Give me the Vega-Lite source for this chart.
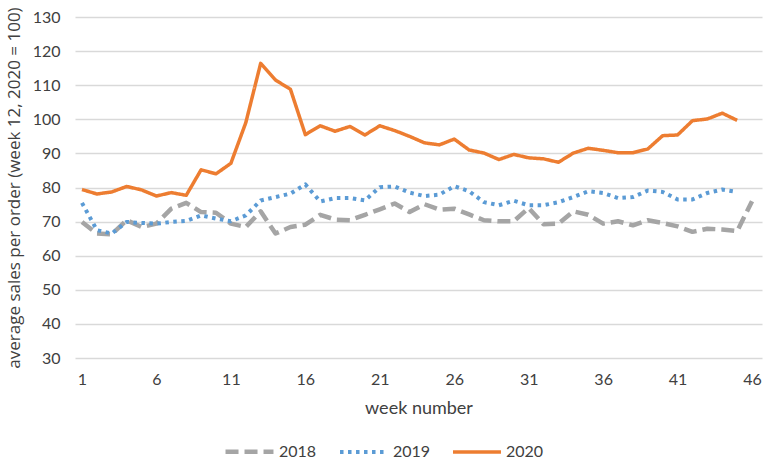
{
  "$schema": "https://vega.github.io/schema/vega-lite/v6.json",
  "width": 687,
  "height": 341,
  "autosize": {"type": "none"},
  "padding": {"left": 75, "top": 17, "right": 3, "bottom": 105},
  "background": "white",
  "config": {"view": {"stroke": null}, "font": "Lato"},
  "data": {"values": [
    {"week":1,"year":"2018","value":69.9},{"week":2,"year":"2018","value":66.5},{"week":3,"year":"2018","value":66.3},{"week":4,"year":"2018","value":70.4},{"week":5,"year":"2018","value":68.4},{"week":6,"year":"2018","value":69.4},{"week":7,"year":"2018","value":73.8},{"week":8,"year":"2018","value":75.5},{"week":9,"year":"2018","value":72.8},{"week":10,"year":"2018","value":72.6},{"week":11,"year":"2018","value":69.4},{"week":12,"year":"2018","value":68.4},{"week":13,"year":"2018","value":73.0},{"week":14,"year":"2018","value":66.5},{"week":15,"year":"2018","value":68.4},{"week":16,"year":"2018","value":69.1},{"week":17,"year":"2018","value":72.0},{"week":18,"year":"2018","value":70.6},{"week":19,"year":"2018","value":70.4},{"week":20,"year":"2018","value":72.0},{"week":21,"year":"2018","value":73.6},{"week":22,"year":"2018","value":75.3},{"week":23,"year":"2018","value":72.8},{"week":24,"year":"2018","value":75.1},{"week":25,"year":"2018","value":73.5},{"week":26,"year":"2018","value":73.8},{"week":27,"year":"2018","value":72.1},{"week":28,"year":"2018","value":70.4},{"week":29,"year":"2018","value":70.1},{"week":30,"year":"2018","value":70.1},{"week":31,"year":"2018","value":74.0},{"week":32,"year":"2018","value":69.2},{"week":33,"year":"2018","value":69.4},{"week":34,"year":"2018","value":73.0},{"week":35,"year":"2018","value":72.0},{"week":36,"year":"2018","value":69.4},{"week":37,"year":"2018","value":70.1},{"week":38,"year":"2018","value":68.9},{"week":39,"year":"2018","value":70.4},{"week":40,"year":"2018","value":69.6},{"week":41,"year":"2018","value":68.6},{"week":42,"year":"2018","value":67.0},{"week":43,"year":"2018","value":67.9},{"week":44,"year":"2018","value":67.7},{"week":45,"year":"2018","value":67.2},{"week":46,"year":"2018","value":76.0},
    {"week":1,"year":"2019","value":75.5},{"week":2,"year":"2019","value":67.5},{"week":3,"year":"2019","value":66.5},{"week":4,"year":"2019","value":69.9},{"week":5,"year":"2019","value":69.6},{"week":6,"year":"2019","value":69.4},{"week":7,"year":"2019","value":69.9},{"week":8,"year":"2019","value":70.2},{"week":9,"year":"2019","value":71.8},{"week":10,"year":"2019","value":70.9},{"week":11,"year":"2019","value":70.1},{"week":12,"year":"2019","value":71.8},{"week":13,"year":"2019","value":76.2},{"week":14,"year":"2019","value":77.2},{"week":15,"year":"2019","value":78.2},{"week":16,"year":"2019","value":80.9},{"week":17,"year":"2019","value":75.9},{"week":18,"year":"2019","value":76.9},{"week":19,"year":"2019","value":76.9},{"week":20,"year":"2019","value":76.2},{"week":21,"year":"2019","value":80.1},{"week":22,"year":"2019","value":80.3},{"week":23,"year":"2019","value":78.5},{"week":24,"year":"2019","value":77.5},{"week":25,"year":"2019","value":77.9},{"week":26,"year":"2019","value":80.4},{"week":27,"year":"2019","value":78.9},{"week":28,"year":"2019","value":75.7},{"week":29,"year":"2019","value":74.8},{"week":30,"year":"2019","value":76.1},{"week":31,"year":"2019","value":74.8},{"week":32,"year":"2019","value":74.8},{"week":33,"year":"2019","value":75.7},{"week":34,"year":"2019","value":77.2},{"week":35,"year":"2019","value":78.9},{"week":36,"year":"2019","value":78.4},{"week":37,"year":"2019","value":76.9},{"week":38,"year":"2019","value":77.2},{"week":39,"year":"2019","value":79.1},{"week":40,"year":"2019","value":78.7},{"week":41,"year":"2019","value":76.5},{"week":42,"year":"2019","value":76.5},{"week":43,"year":"2019","value":78.4},{"week":44,"year":"2019","value":79.4},{"week":45,"year":"2019","value":78.7},
    {"week":1,"year":"2020","value":79.4},{"week":2,"year":"2020","value":78.1},{"week":3,"year":"2020","value":78.7},{"week":4,"year":"2020","value":80.3},{"week":5,"year":"2020","value":79.3},{"week":6,"year":"2020","value":77.5},{"week":7,"year":"2020","value":78.5},{"week":8,"year":"2020","value":77.7},{"week":9,"year":"2020","value":85.2},{"week":10,"year":"2020","value":84.0},{"week":11,"year":"2020","value":87.1},{"week":12,"year":"2020","value":99.0},{"week":13,"year":"2020","value":116.4},{"week":14,"year":"2020","value":111.5},{"week":15,"year":"2020","value":108.8},{"week":16,"year":"2020","value":95.5},{"week":17,"year":"2020","value":98.1},{"week":18,"year":"2020","value":96.5},{"week":19,"year":"2020","value":97.9},{"week":20,"year":"2020","value":95.4},{"week":21,"year":"2020","value":98.1},{"week":22,"year":"2020","value":96.7},{"week":23,"year":"2020","value":95.0},{"week":24,"year":"2020","value":93.1},{"week":25,"year":"2020","value":92.5},{"week":26,"year":"2020","value":94.2},{"week":27,"year":"2020","value":91.0},{"week":28,"year":"2020","value":90.1},{"week":29,"year":"2020","value":88.2},{"week":30,"year":"2020","value":89.7},{"week":31,"year":"2020","value":88.7},{"week":32,"year":"2020","value":88.4},{"week":33,"year":"2020","value":87.4},{"week":34,"year":"2020","value":90.1},{"week":35,"year":"2020","value":91.5},{"week":36,"year":"2020","value":90.9},{"week":37,"year":"2020","value":90.2},{"week":38,"year":"2020","value":90.2},{"week":39,"year":"2020","value":91.3},{"week":40,"year":"2020","value":95.2},{"week":41,"year":"2020","value":95.4},{"week":42,"year":"2020","value":99.6},{"week":43,"year":"2020","value":100.1},{"week":44,"year":"2020","value":101.8},{"week":45,"year":"2020","value":99.7}
  ]},
  "mark": {"type": "line", "strokeCap": "butt", "strokeJoin": "round"},
  "encoding": {
    "x": {
      "field": "week", "type": "quantitative",
      "scale": {"domain": [0.53, 46.67], "nice": false, "zero": false},
      "axis": {
        "values": [1, 6, 11, 16, 21, 26, 31, 36, 41, 46],
        "grid": false, "domain": false, "ticks": false,
        "labelFontSize": 16, "labelColor": "#404040", "labelPadding": 13,
        "title": "week number", "titleFontSize": 18, "titleFontWeight": "normal",
        "titleColor": "#404040", "titlePadding": 12
      }
    },
    "y": {
      "field": "value", "type": "quantitative",
      "scale": {"domain": [30, 130], "nice": false, "zero": false},
      "axis": {
        "values": [30, 40, 50, 60, 70, 80, 90, 100, 110, 120, 130],
        "grid": true, "gridColor": "#d9d9d9", "gridWidth": 1.5,
        "domain": false, "ticks": false,
        "labelFontSize": 16, "labelColor": "#404040", "labelPadding": 15,
        "title": "average sales per order (week 12, 2020 = 100)",
        "titleFont": "Open Sans", "titleFontSize": 17, "titleFontWeight": "normal",
        "titleColor": "#404040", "titlePadding": 9
      }
    },
    "color": {
      "field": "year", "type": "nominal",
      "scale": {"domain": ["2018", "2019", "2020"], "range": ["#a5a5a5", "#5b9bd5", "#ed7d31"]},
      "legend": {
        "title": null, "orient": "none", "direction": "horizontal",
        "legendX": 148, "legendY": 408,
        "symbolType": "stroke", "symbolSize": 2300, "symbolStrokeWidth": 4.5,
        "labelFontSize": 16, "labelColor": "#404040", "labelOffset": 3,
        "columnPadding": 15
      }
    },
    "strokeDash": {
      "field": "year", "type": "nominal",
      "scale": {"domain": ["2018", "2019", "2020"], "range": [[13, 6], [3.5, 4.5], [1, 0]]}
    },
    "strokeWidth": {
      "field": "year", "type": "nominal",
      "scale": {"domain": ["2018", "2019", "2020"], "range": [4.5, 3.5, 4.5]}
    }
  }
}
